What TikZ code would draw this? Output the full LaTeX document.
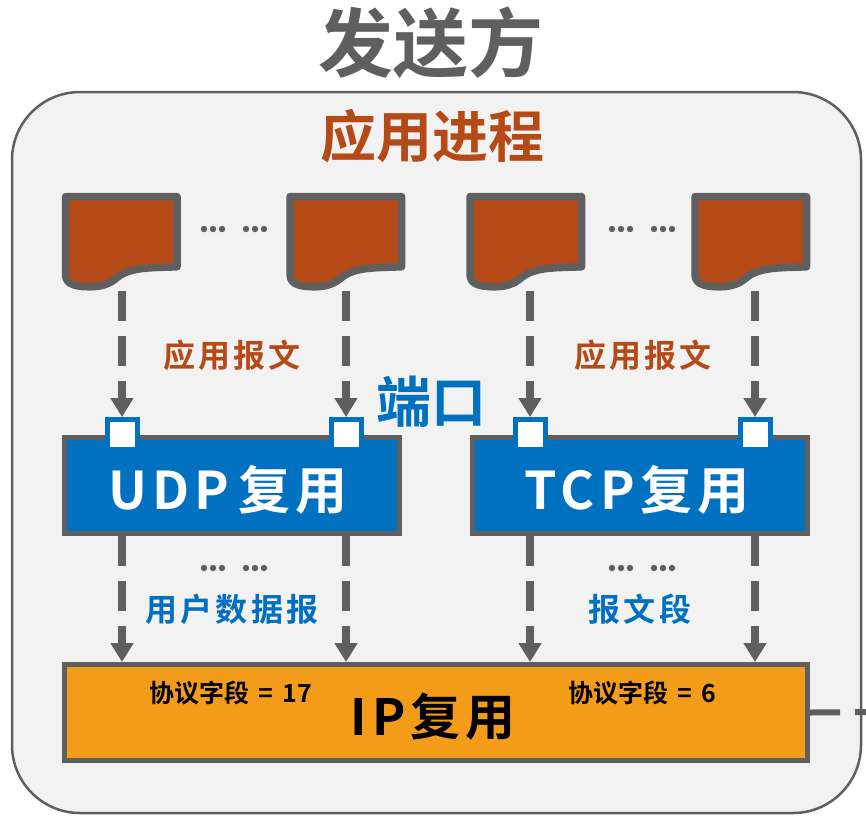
\documentclass[tikz,border=0pt]{standalone}
\usepackage{fontspec}
\newfontfamily\cjk[BoldFont=Noto Sans CJK SC Bold]{Noto Sans CJK SC}
\newfontfamily\cjkwide[BoldFont=Noto Sans CJK SC Bold,BoldFeatures={LetterSpace=10}]{Noto Sans CJK SC}
\usetikzlibrary{arrows.meta}
\definecolor{linegray}{HTML}{5F5F5F}
\definecolor{panelgray}{HTML}{F2F2F2}
\definecolor{rust}{HTML}{B64A17}
\definecolor{muxblue}{HTML}{0070C0}
\definecolor{amber}{HTML}{F39C1A}

\begin{document}
\begin{tikzpicture}[x=1pt,y=-1pt]
\tikzset{
    label/.style={font=\cjk\bfseries, inner sep=0pt},
    small label/.style={font=\cjkwide\bfseries\fontsize{32}{32}\selectfont, inner sep=0pt},
    field label/.style={font=\cjk\bfseries\fontsize{25}{25}\selectfont, inner sep=0pt},
    mux label/.style={font=\cjkwide\bfseries\fontsize{52}{52}\selectfont, inner sep=0pt, text=white},
    docfile/.style={minimum width=119pt, minimum height=98pt, inner sep=0pt},
    docline/.style={line width=7.5pt, draw=linegray, fill=rust, line join=round},
    muxbox/.style={draw=linegray, line width=5pt, fill=muxblue, inner sep=0pt,
        minimum width=335pt, minimum height=96pt},
    ipbox/.style={draw=linegray, line width=5pt, fill=amber, inner sep=0pt,
        minimum width=743pt, minimum height=96pt},
    portbox/.style={draw=muxblue, line width=5pt, fill=white, minimum size=30pt, inner sep=0pt},
    flow/.style={line width=7.5pt, draw=linegray, dash pattern=on 30pt off 15pt,
        -{Triangle[length=19pt,width=22pt]}}}
\useasboundingbox (0,0) rectangle (866,823);

% frame
\draw[draw=linegray, line width=2.5pt, fill=panelgray, rounded corners=68pt] (12,92) rectangle (861,813);

% titles
\node[label, text=linegray, font=\cjk\bfseries\fontsize{75}{75}\selectfont] (sender) at (431,43) {发送方};
\node[label, text=rust, font=\cjk\bfseries\fontsize{56}{56}\selectfont] (process) at (432,136) {应用进程};

% messages
\foreach \name/\x in {d1/121.5,d2/346,d3/526,d4/751}{
    \node[docfile] (\name) at (\x,242) {};
    \begin{scope}[shift={(\name.north west)}]
    \draw[docline] (3.75,3.75)--(115.25,3.75)--(115.25,74)
        ..controls (90,75) and (68,74) .. (55,85)
        ..controls (47,92) and (38,94) .. (28,94)
        ..controls (15,94) and (3.75,92) .. (3.75,82)--cycle;
    \end{scope}
}
\foreach \x/\y in {234/229,642/229,234/568,642/568}{
    \foreach \dx in {-30,-21,-12,12,21,30}{
        \fill[linegray] (\x+\dx,\y) circle(3.2);
    }
}

% multiplexers
\node[muxbox] (udp) at (232,485) {};
\node[muxbox] (tcp) at (640,485) {};
\node[ipbox] (ip) at (436,712.5) {};
\node[mux label] (udpname) at (228,490) {U\kern5pt D\kern5pt P\kern9pt 复用};
\node[mux label] (tcpname) at (637,490) {TCP复用};

% ports
\foreach \name/\x in {p1/122,p2/346,p3/530,p4/755}{
    \node[portbox] (\name) at (\x,434.5) {};
}

% connectors
\foreach \msg/\port in {d1/p1,d2/p2,d3/p3,d4/p4}{
    \draw[flow] (\msg.south -| \port.north) -- (\port.north);
}
\foreach \port/\mux in {p1/udp,p2/udp,p3/tcp,p4/tcp}{
    \draw[flow] (\port |- \mux.south) -- (\port |- ip.north);
}
\coordinate (out) at (866,712);
\draw[line width=6pt, draw=linegray, dash pattern=on 30pt off 15pt] (ip.east) -- (out);

% labels
\node[small label, text=rust] (msgleft) at (232,355) {应用报文};
\node[small label, text=rust] (msgright) at (643,355) {应用报文};
\node[label, text=muxblue, font=\cjk\bfseries\fontsize{55}{55}\selectfont] (portname) at (431,402) {端口};
\node[small label, text=muxblue] (dgram) at (232,609) {用户数据报};
\node[small label, text=muxblue] (segment) at (640,609) {报文段};
\node[field label] (fieldudp) at (231,693) {协议字段\kern9pt =\kern9pt 17};
\node[field label] (fieldtcp) at (642,693) {协议字段\kern9pt =\kern9pt 6};
\node[label, font=\cjkwide\bfseries\fontsize{50}{50}\selectfont] (ipname) at (433,717) {IP复用};
\end{tikzpicture}
\end{document}
